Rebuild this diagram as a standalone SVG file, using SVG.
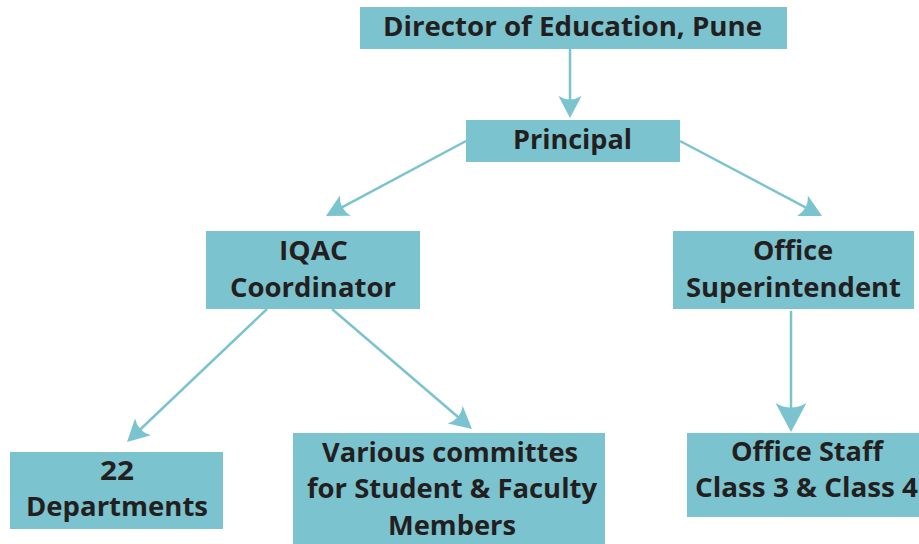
<svg xmlns="http://www.w3.org/2000/svg" width="919" height="544" viewBox="0 0 919 544">
<style>
.box{fill:#7bc3ce;}
.t{font-family:"Open Sans","Liberation Sans",sans-serif;font-weight:700;font-size:26px;fill:#231f20;text-anchor:middle;}
.c{stroke:#7bc3ce;stroke-width:2.5;fill:none;}
.ah{fill:#7bc3ce;}
</style>
<defs>
<marker id="arr" markerUnits="userSpaceOnUse" orient="auto" refX="-8" refY="0" markerWidth="30" markerHeight="30" overflow="visible">
<path class="ah" d="M0,0 L-22,-11.5 Q-15,0 -22,11.5 Z"/>
</marker>
<marker id="arrBig" markerUnits="userSpaceOnUse" orient="auto" refX="-10" refY="0" markerWidth="40" markerHeight="40" overflow="visible">
<path class="ah" d="M0,0 L-29,-15.5 Q-20,0 -29,15.5 Z"/>
</marker>
</defs>
<rect width="919" height="544" fill="#ffffff"/>
<g id="connectors">
<line class="c" x1="570" y1="49" x2="570" y2="110" marker-end="url(#arr)"/>
<line class="c" x1="466" y1="141" x2="333" y2="212.2" marker-end="url(#arr)"/>
<line class="c" x1="680" y1="141" x2="814.9" y2="212.3" marker-end="url(#arr)"/>
<line class="c" x1="267" y1="309" x2="132.8" y2="436.5" marker-end="url(#arr)"/>
<line class="c" x1="332" y1="309" x2="465.9" y2="423.8" marker-end="url(#arr)"/>
<line class="c" x1="791" y1="311" x2="791" y2="422" stroke-width="3" marker-end="url(#arrBig)"/>
</g>
<g id="director">
<rect class="box" x="360" y="7" width="427" height="42"/>
<text class="t" x="572.5" y="36" textLength="379" lengthAdjust="spacingAndGlyphs">Director of Education, Pune</text>
</g>
<g id="principal">
<rect class="box" x="466" y="120" width="214" height="42"/>
<text class="t" x="572.5" y="149" textLength="119" lengthAdjust="spacingAndGlyphs">Principal</text>
</g>
<g id="iqac">
<rect class="box" x="206" y="231" width="214" height="78"/>
<text class="t" x="313.5" y="260" textLength="69" lengthAdjust="spacingAndGlyphs">IQAC</text>
<text class="t" x="313" y="297" textLength="166" lengthAdjust="spacingAndGlyphs">Coordinator</text>
</g>
<g id="office-superintendent">
<rect class="box" x="673" y="231" width="241" height="78"/>
<text class="t" x="793" y="260" textLength="80" lengthAdjust="spacingAndGlyphs">Office</text>
<text class="t" x="793.5" y="297" textLength="215" lengthAdjust="spacingAndGlyphs">Superintendent</text>
</g>
<g id="departments">
<rect class="box" x="10" y="452" width="213" height="77"/>
<text class="t" x="117" y="480" textLength="34" lengthAdjust="spacingAndGlyphs">22</text>
<text class="t" x="117" y="516" textLength="182" lengthAdjust="spacingAndGlyphs">Departments</text>
</g>
<g id="committees">
<rect class="box" x="293" y="433" width="312" height="111"/>
<text class="t" x="450" y="462" textLength="256" lengthAdjust="spacingAndGlyphs">Various committes</text>
<text class="t" x="452" y="498" textLength="290" lengthAdjust="spacingAndGlyphs">for Student &amp; Faculty</text>
<text class="t" x="452" y="535" textLength="128" lengthAdjust="spacingAndGlyphs">Members</text>
</g>
<g id="office-staff">
<rect class="box" x="687" y="433" width="232" height="84"/>
<text class="t" x="807" y="461" textLength="152" lengthAdjust="spacingAndGlyphs">Office Staff</text>
<text class="t" x="806.5" y="497" textLength="223" lengthAdjust="spacingAndGlyphs">Class 3 &amp; Class 4</text>
</g>
</svg>
